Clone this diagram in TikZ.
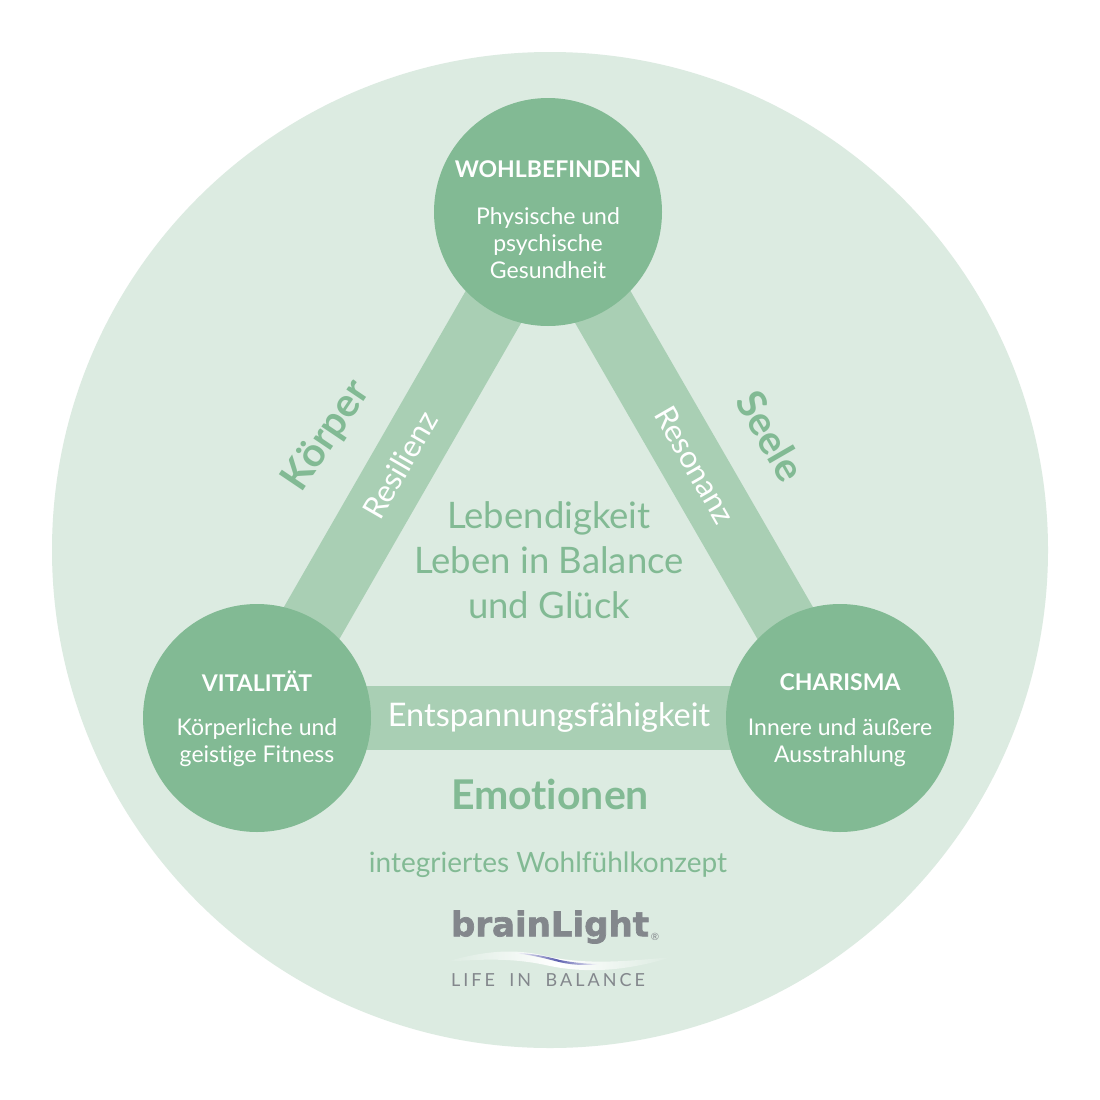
\documentclass[tikz,border=0pt]{standalone}
\usepackage{fontspec}
\setmainfont{Lato}[Ligatures=NoCommon]
\newfontfamily\logofont{DejaVu Sans}[BoldFeatures={FakeBold=2}]
\usetikzlibrary{backgrounds}
\definecolor{areagreen}{HTML}{DCEBE1}
\definecolor{circlegreen}{HTML}{82BA94}
\definecolor{bargreen}{HTML}{A9CFB4}
\definecolor{logogray}{HTML}{83878C}
\tikzset{
	pillar/.style = {circle, fill=circlegreen, minimum size=228pt, inner sep=0pt},
	pillartitle/.style = {text=white, font=\fontsize{23}{26}\selectfont\bfseries, inner sep=0pt},
	pillartext/.style = {text=white, font=\fontsize{23}{27}\selectfont, align=center, inner sep=0pt},
	barline/.style = {draw=bargreen, line width=64pt, shorten <=-30pt, shorten >=-30pt},
	barlabel/.style = {text=white, inner sep=0pt},
	greenlabel/.style = {text=circlegreen, inner sep=0pt, align=center}
}
\begin{document}
\begin{tikzpicture}[x=1pt,y=-1pt]
	\useasboundingbox (0,0) rectangle (1100,1100);
	\begin{pgfonlayer}{background}
		\fill[white] (0,0) rectangle (1100,1100);
		\node(area) [circle, fill=areagreen, minimum size=996pt, inner sep=0pt] at (550,550) {};
	\end{pgfonlayer}

	\node(wohlbefinden) [pillar] at (548,212) {};
	\node(vitalitaet) [pillar] at (257,718) {};
	\node(charisma) [pillar] at (840,718) {};

	\begin{pgfonlayer}{background}
		\draw[barline] (wohlbefinden) -- (vitalitaet);
		\draw[barline] (wohlbefinden) -- (charisma);
		\draw[barline] (vitalitaet) -- (charisma);
	\end{pgfonlayer}

	\node(resilienz) [barlabel, rotate=60, font=\fontsize{31}{34}\selectfont] at (400,465) {Resilienz};
	\node(resonanz) [barlabel, rotate=-60, font=\fontsize{31}{34}\selectfont] at (695,465) {Resonanz};
	\node(entspannung) [barlabel, font=\fontsize{32.5}{36}\selectfont] at (549,717) {Entspannungsfähigkeit};

	\node(wohltitle) [pillartitle] at (548,169) {WOHLBEFINDEN};
	\node(wohltext) [pillartext] at (548,243) {Physische und\\psychische\\Gesundheit};
	\node(vitaltitle) [pillartitle] at (257,681) {VITALITÄT};
	\node(vitaltext) [pillartext] at (257,743) {Körperliche und\\geistige Fitness};
	\node(charismatitle) [pillartitle] at (840,682) {CHARISMA};
	\node(charismatext) [pillartext] at (840,743) {Innere und äußere\\Ausstrahlung};

	\node(koerper) [greenlabel, rotate=56, font=\fontsize{40}{44}\selectfont\bfseries] at (327,436) {Körper};
	\node(seele) [greenlabel, rotate=-60, font=\fontsize{40}{44}\selectfont\bfseries] at (771,436) {Seele};
	\node(balance) [greenlabel, font=\fontsize{36.5}{45}\selectfont] at (549,560) {Lebendigkeit\\Leben in Balance\\und Glück};
	\node(emotionen) [greenlabel, font=\fontsize{41}{46}\selectfont\bfseries] at (550,794) {Emotionen};
	\node(konzept) [greenlabel, font=\fontsize{28}{32}\selectfont] at (548,865) {integriertes Wohlfühlkonzept};

	% logo
	\node(logo) [text=logogray, inner sep=0pt, font=\logofont\fontsize{34}{40}\selectfont\bfseries] at (550,927) {brainLight};
	\node(logomark) [text=logogray, inner sep=0pt, font=\fontsize{10}{12}\selectfont] at (655,937) {®};
	\shade[left color=areagreen, right color=areagreen, middle color=white]
		(445,962) .. controls (490,949) and (520,949) .. (550,957) .. controls (590,965) and (630,961) .. (672,957)
		.. controls (630,970) and (590,974) .. (550,966) .. controls (520,959) and (490,958) .. (445,962) -- cycle;
	\shade[left color=white, right color=white, middle color=logogray!70!blue]
		(515,953) .. controls (530,953) and (545,956) .. (560,960) .. controls (575,963) and (590,964) .. (600,964)
		.. controls (585,966) and (570,965) .. (555,961) .. controls (540,957) and (530,955) .. (515,953) -- cycle;
	\node(lifebalance) [text=logogray, inner sep=0pt, font=\fontsize{18}{24}\selectfont] at (548,980) {L\,I\,F\,E\hspace{0.8em}I\,N\hspace{0.8em}B\,A\,L\,A\,N\,C\,E};
\end{tikzpicture}
\end{document}
